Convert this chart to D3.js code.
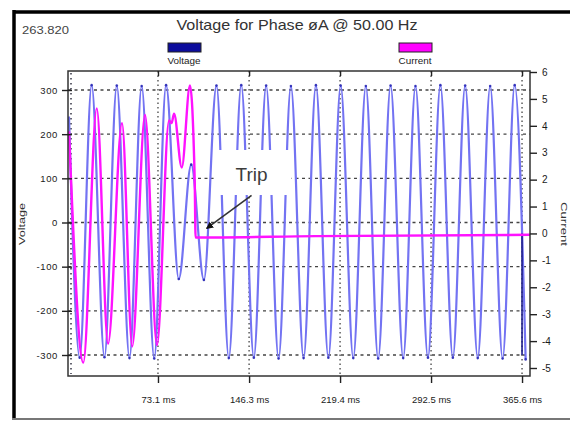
<!DOCTYPE html>
<html>
<head>
<meta charset="utf-8">
<script src="https://cdn.jsdelivr.net/npm/d3@7"></script>
<style>
  html, body { margin: 0; padding: 0; background: #fff; }
  #chart { width: 570px; height: 421px; }
  text { font-family: "Liberation Sans", Arial, sans-serif; }
</style>
</head>
<body>
<div id="chart"></div>
<script>
const chartTitle = "Voltage for Phase øA @ 50.00 Hz";
const cornerValue = "263.820";
const seriesNames = ["Voltage", "Current"];

const timeTicks = [73.1, 146.3, 219.4, 292.5, 365.6];
const voltageTicks = [-300, -200, -100, 0, 100, 200, 300];
const currentTicks = [-5, -4, -3, -2, -1, 0, 1, 2, 3, 4, 5, 6];

// voltage turning points (ms, V)
const voltageTimes = [1.6, 10.2, 19.8, 30.1, 40.0, 50.2, 60.0, 70.1, 79.6, 89.8, 99.8, 110.0,
  120.1, 130.0, 140.0, 150.1, 160.0, 170.0, 179.9, 190.1, 200.0, 210.0, 219.9, 230.0,
  240.1, 250.0, 260.0, 270.1, 280.0, 290.0, 300.0, 310.0, 319.9, 330.0, 340.0, 350.0,
  359.7, 368.5];
const voltageValues = [240, -306, 311, -305, 310, -307, 309, -308, 311, -128, 131, -130,
  310, -307, 311, -306, 310, -308, 309, -307, 311, -306, 310, -307,
  309, -308, 310, -307, 309, -306, 311, -306, 310, -307, 309, -308,
  311, -310];

// current turning points (ms, A)
const currentTimes = [1.6, 13.1, 23.9, 33.0, 44.2, 52.4, 62.7, 72.3, 82.0, 84.0, 86.0,
  92.2, 98.8, 102.6, 103.3, 200, 372];
const currentValues = [3.8, -4.8, 4.65, -4.1, 4.1, -4.2, 4.4, -4.15, 4.2, 4.1, 4.45,
  2.45, 5.5, 2.0, -0.15, -0.1, -0.05];

const tripTime = 103.3;

class WaveChart {
  constructor(id) {
    this.div = id;
    this.plot = { left: 68, right: 530, top: 71, bottom: 376 };
  }

  add_svg() {
    const div = d3.select(`#${this.div}`);
    div.selectAll("*").remove();
    this.width = 570;
    this.height = 421;
    this.svg = div.append("svg").attr("width", this.width).attr("height", this.height);
    this.svg.append("rect").attr("width", this.width).attr("height", this.height).attr("fill", "#fff");

    this.x = d3.scaleLinear().domain([0, 372]).range([67, 530]);
    this.yV = d3.scaleLinear().domain([-300, 300]).range([355, 90]);
    this.yI = d3.scaleLinear().domain([-5, 6]).range([368, 72]);

    this.svg.append("clipPath").attr("id", "plotClip")
      .append("rect")
      .attr("x", this.plot.left).attr("y", this.plot.top)
      .attr("width", this.plot.right - this.plot.left)
      .attr("height", this.plot.bottom - this.plot.top);
  }

  add_frame() {
    const s = this.svg;
    s.append("line").attr("x1", 14).attr("x2", 570).attr("y1", 12).attr("y2", 12)
      .attr("stroke", "#000").attr("stroke-width", 3.5);
    s.append("line").attr("x1", 14).attr("x2", 14).attr("y1", 10).attr("y2", 418)
      .attr("stroke", "#000").attr("stroke-width", 3.5);
    s.append("line").attr("x1", 12).attr("x2", 570).attr("y1", 419).attr("y2", 419)
      .attr("stroke", "#777").attr("stroke-width", 2);
  }

  add_grid() {
    const p = this.plot;
    const g = this.svg.append("g");
    g.selectAll(".hgrid").data(voltageTicks).join("line")
      .attr("class", "hgrid")
      .attr("x1", p.left).attr("x2", p.right)
      .attr("y1", d => this.yV(d)).attr("y2", d => this.yV(d))
      .attr("stroke", "#444").attr("stroke-width", 1.4).attr("stroke-dasharray", "3,3.5");
    g.selectAll(".vgrid").data(timeTicks).join("line")
      .attr("class", "vgrid")
      .attr("x1", d => this.x(d)).attr("x2", d => this.x(d))
      .attr("y1", p.top).attr("y2", p.bottom)
      .attr("stroke", "#444").attr("stroke-width", 1.3).attr("stroke-dasharray", "1.5,3");
    g.append("line")
      .attr("x1", p.left + 3).attr("x2", p.left + 3)
      .attr("y1", p.top + 2).attr("y2", p.bottom - 2)
      .attr("stroke", "#334").attr("stroke-width", 1.5).attr("stroke-dasharray", "1.5,3.5");
  }

  add_lines() {
    const volt = d3.zip(voltageTimes, voltageValues);
    const curr = d3.zip(currentTimes, currentValues);
    const g = this.svg.append("g").attr("clip-path", "url(#plotClip)");

    const vLine = d3.line().x(d => this.x(d[0])).y(d => this.yV(d[1])).curve(d3.curveMonotoneX);
    const iLine = d3.line().x(d => this.x(d[0])).y(d => this.yI(d[1])).curve(d3.curveMonotoneX);

    g.append("path").datum(volt).attr("d", vLine)
      .attr("fill", "none").attr("stroke", "#7373f2").attr("stroke-width", 2.2);
    g.selectAll(".vdot").data(volt.slice(1)).join("circle")
      .attr("class", "vdot")
      .attr("cx", d => this.x(d[0])).attr("cy", d => this.yV(d[1]))
      .attr("r", 1.3).attr("fill", "#2424b0").attr("opacity", 0.85);

    g.append("line")
      .attr("x1", this.x(timeTicks[4])).attr("x2", this.x(timeTicks[4]))
      .attr("y1", this.yI(0)).attr("y2", this.yV(-300))
      .attr("stroke", "#1c1c8a").attr("stroke-width", 1.6);

    g.append("path").datum(curr).attr("d", iLine)
      .attr("fill", "none").attr("stroke", "#ff12ff").attr("stroke-width", 2.4);

    const p = this.plot;
    this.svg.append("rect")
      .attr("x", p.left).attr("y", p.top)
      .attr("width", p.right - p.left).attr("height", p.bottom - p.top)
      .attr("fill", "none").attr("stroke", "#333").attr("stroke-width", 1.5);
  }

  add_axes() {
    const p = this.plot;
    const style = (g, size) => {
      g.select(".domain").remove();
      g.selectAll("line").attr("stroke", "#222").attr("stroke-width", 1.4);
      g.selectAll("text").attr("fill", "#1a1a1a").style("font-size", size + "px");
    };

    this.svg.append("g").attr("transform", `translate(${p.left + 4},0)`)
      .call(d3.axisLeft(this.yV).tickValues(voltageTicks).tickSize(10).tickPadding(4)
        .tickFormat(d => String(d)))
      .call(g => style(g, 9.5))
      .call(g => g.selectAll("text").attr("letter-spacing", "0.6"));

    this.svg.append("g").attr("transform", `translate(${p.right},0)`)
      .call(d3.axisRight(this.yI).tickValues(currentTicks).tickSize(7).tickPadding(5)
        .tickFormat(d => String(d)))
      .call(g => style(g, 10));

    this.svg.append("g").attr("transform", `translate(0,${p.bottom})`)
      .call(d3.axisBottom(this.x).tickValues(timeTicks).tickSize(7).tickPadding(13)
        .tickFormat(d => d + " ms"))
      .call(g => style(g, 9.5));

    this.svg.append("g").attr("transform", `translate(0,${p.top})`)
      .call(d3.axisTop(this.x).tickValues(timeTicks).tickSize(-5).tickFormat(""))
      .call(g => style(g, 9));
  }

  add_label({ text, x, y, size, rotate = 0, anchor = "middle", fill = "#333", length }) {
    const t = this.svg.append("text")
      .attr("transform", `translate(${x},${y}) rotate(${rotate})`)
      .attr("text-anchor", anchor)
      .attr("fill", fill)
      .style("font-size", size + "px")
      .text(text);
    if (length) t.attr("textLength", length).attr("lengthAdjust", "spacingAndGlyphs");
  }

  add_texts() {
    this.add_label({ text: chartTitle, x: 297, y: 30, size: 14.5, length: 241 });
    this.add_label({ text: cornerValue, x: 22, y: 34, size: 11.5, anchor: "start", fill: "#444", length: 47 });

    const legend = [
      { name: seriesNames[0], cx: 184, fill: "#0c0c9c" },
      { name: seriesNames[1], cx: 415, fill: "#ff00ff" }
    ];
    this.svg.selectAll(".swatch").data(legend).join("rect")
      .attr("class", "swatch")
      .attr("x", d => d.cx - 16).attr("y", 43)
      .attr("width", 33).attr("height", 9)
      .attr("fill", d => d.fill).attr("stroke", "#222").attr("stroke-width", 1);
    legend.forEach(d => this.add_label({ text: d.name, x: d.cx, y: 64, size: 8.5, fill: "#222", length: 33 }));

    this.add_label({ text: seriesNames[0], x: 25, y: 224, size: 9.5, rotate: -90, fill: "#333", length: 42 });
    this.add_label({ text: seriesNames[1], x: 561, y: 224, size: 9.5, rotate: 90, fill: "#333", length: 44 });
  }

  add_trip() {
    const tx = this.x(tripTime);
    const ty = this.yI(0);
    this.svg.append("rect")
      .attr("x", tx + 18).attr("y", 150).attr("width", 78).attr("height", 45)
      .attr("fill", "#fff");
    this.svg.append("defs").append("marker")
      .attr("id", "arrowHead").attr("viewBox", "0 0 10 10")
      .attr("refX", 9).attr("refY", 5)
      .attr("markerWidth", 4.5).attr("markerHeight", 4.5)
      .attr("orient", "auto")
      .append("path").attr("d", "M0,0 L10,5 L0,10 Z").attr("fill", "#111");
    this.svg.append("line")
      .attr("x1", tx + 56).attr("y1", ty - 38)
      .attr("x2", tx + 11).attr("y2", ty - 5)
      .attr("stroke", "#333").attr("stroke-width", 1.6)
      .attr("marker-end", "url(#arrowHead)");
    this.add_label({ text: "Trip", x: tx + 56, y: 181, size: 18, fill: "#3c3c3c", length: 32 });
  }
}

const chart = new WaveChart("chart");
chart.add_svg();
chart.add_frame();
chart.add_grid();
chart.add_lines();
chart.add_trip();
chart.add_axes();
chart.add_texts();
</script>
</body>
</html>
